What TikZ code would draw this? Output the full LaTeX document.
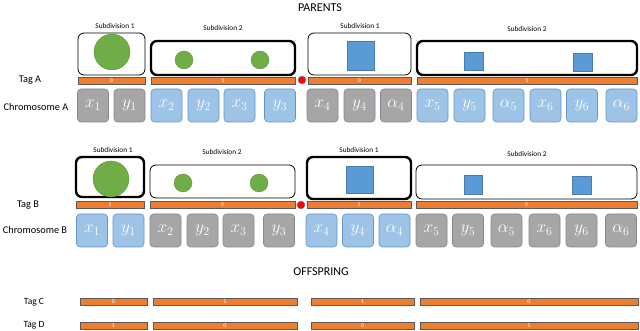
\documentclass[tikz,border=0pt]{standalone}
\usepackage{fontspec}
\setmainfont{Carlito}
\begin{document}
\begin{tikzpicture}[x=1pt,y=-1pt,
  every node/.style={inner sep=0pt,outer sep=0pt},
  title/.style={font=\fontsize{12}{13}\selectfont},
  sublab/.style={font=\fontsize{7.3}{8}\selectfont},
  rowlab/.style={font=\fontsize{10.3}{11}\selectfont},
  thinbox/.style={draw=black,line width=0.8pt,rounded corners=6pt,fill=white},
  thickbox/.style={draw=black,line width=2.4pt,rounded corners=6pt,fill=white},
  bar/.style={draw=gray!70!black,line width=0.4pt,fill=orangeT,text=white,font=\fontsize{6}{6}\selectfont},
  gene/.style={rounded corners=3.5pt,line width=0.6pt,minimum width=31pt,minimum height=33pt,text=white,font=\fontsize{16.5}{17}\selectfont},
  gg/.style={gene,fill=grayF,draw=grayD},
  gbl/.style={gene,fill=blueF,draw=blueD},
  circ/.style={circle,fill=greenT,draw=greenT!80!black,line width=0.3pt},
  sq/.style={fill=blueS,draw=blueS!80!black,line width=0.3pt},
  reddot/.style={circle,fill=red,draw=blueD,line width=0.4pt,minimum size=8pt}
]
\definecolor{orangeT}{RGB}{237,125,49}
\definecolor{grayF}{RGB}{166,166,166}
\definecolor{grayD}{RGB}{130,135,145}
\definecolor{blueF}{RGB}{157,195,230}
\definecolor{blueD}{RGB}{100,150,200}
\definecolor{greenT}{RGB}{112,173,71}
\definecolor{blueS}{RGB}{91,155,213}
\useasboundingbox[fill=white] (0,0) rectangle (640,331);

% titles
\node[title] (parents) at (320,8) {PARENTS};
\node[title] (offspring) at (321,272) {OFFSPRING};

% ---------- Parent A ----------
\node[sublab] (sa1) at (115,26) {Subdivision 1};
\node[sublab] (sa2) at (223,28) {Subdivision 2};
\node[sublab] (sa3) at (360,26) {Subdivision 1};
\node[sublab] (sa4) at (527,29) {Subdivision 2};

\node[thinbox,minimum width=67pt,minimum height=42pt] (ba1) at (111.5,54) {};
\node[thickbox,minimum width=144pt,minimum height=34pt] (ba2) at (223,58) {};
\node[thinbox,minimum width=103pt,minimum height=42pt] (ba3) at (359.5,54) {};
\node[thickbox,minimum width=220pt,minimum height=34pt] (ba4) at (527,58) {};

\node[circ,minimum size=36pt] (ca1) at (112,52) {};
\node[circ,minimum size=18pt] (ca2) at (184,60) {};
\node[circ,minimum size=18pt] (ca3) at (260,60) {};
\node[sq,minimum width=27pt,minimum height=29pt] (qa1) at (360.5,55.5) {};
\node[sq,minimum width=19pt,minimum height=18pt] (qa2) at (473.5,61) {};
\node[sq,minimum width=19pt,minimum height=18pt] (qa3) at (582.5,62) {};

\node[rowlab] (taga) at (30,80.5) {Tag A};
\node[bar,minimum width=67pt,minimum height=7pt] (ta1) at (111.5,80.5) {0};
\node[bar,minimum width=144pt,minimum height=7pt] (ta2) at (223,80.5) {1};
\node[reddot] (rda) at (302,80) {};
\node[bar,minimum width=103pt,minimum height=7pt] (ta3) at (359.5,80.5) {0};
\node[bar,minimum width=220pt,minimum height=7pt] (ta4) at (527,80.5) {1};

\node[rowlab] (chra) at (36,107) {Chromosome A};
\foreach \c/\t/\s [count=\i] in {93/x_1/gg,129.5/y_1/gg,166.5/x_2/gbl,203.5/y_2/gbl,239.5/x_3/gbl,280/y_3/gbl,322.5/x_4/gg,359.5/y_4/gg,396/\alpha_4/gg,432.5/x_5/gbl,469.5/y_5/gbl,508.5/\alpha_5/gbl,545.5/x_6/gbl,582/y_6/gbl,621.5/\alpha_6/gbl}
  \node[\s] (ga\i) at (\c,105.5) {$\t$};

% ---------- Parent B ----------
\node[sublab] (sb1) at (113,150) {Subdivision 1};
\node[sublab] (sb2) at (222,152) {Subdivision 2};
\node[sublab] (sb3) at (359,150) {Subdivision 1};
\node[sublab] (sb4) at (527,154) {Subdivision 2};

\node[thickbox,minimum width=68pt,minimum height=40pt] (bb1) at (110,177) {};
\node[thinbox,minimum width=145pt,minimum height=33pt] (bb2) at (222.5,181.5) {};
\node[thickbox,minimum width=104pt,minimum height=42pt] (bb3) at (359,178) {};
\node[thinbox,minimum width=221pt,minimum height=34pt] (bb4) at (526.5,182) {};

\node[circ,minimum size=36pt] (cb1) at (111,179) {};
\node[circ,minimum size=18pt] (cb2) at (183,183) {};
\node[circ,minimum size=18pt] (cb3) at (259,183) {};
\node[sq,minimum width=27pt,minimum height=27pt] (qb1) at (359.5,179.5) {};
\node[sq,minimum width=18pt,minimum height=19pt] (qb2) at (473,184.5) {};
\node[sq,minimum width=19pt,minimum height=18pt] (qb3) at (581.5,185) {};

\node[rowlab] (tagb) at (28,205) {Tag B};
\node[bar,minimum width=68pt,minimum height=7pt] (tb1) at (110,204.5) {1};
\node[bar,minimum width=145pt,minimum height=7pt] (tb2) at (222.5,204.5) {0};
\node[reddot] (rdb) at (301,205) {};
\node[bar,minimum width=104pt,minimum height=7pt] (tb3) at (359,204.5) {1};
\node[bar,minimum width=221pt,minimum height=7pt] (tb4) at (526.5,204.5) {0};

\node[rowlab] (chrb) at (35,230) {Chromosome B};
\foreach \c/\t/\s [count=\i] in {92/x_1/gbl,128.5/y_1/gbl,165.5/x_2/gg,202.5/y_2/gg,238.5/x_3/gg,279/y_3/gg,321.5/x_4/gbl,358/y_4/gbl,394.5/\alpha_4/gbl,431.5/x_5/gg,468/y_5/gg,506.5/\alpha_5/gg,544.5/x_6/gg,581.5/y_6/gg,621/\alpha_6/gg}
  \node[\s] (gb\i) at (\c,230.5) {$\t$};

% ---------- Offspring ----------
\node[rowlab,font=\fontsize{9.5}{10}\selectfont] (tagc) at (34,302) {Tag C};
\node[bar,minimum width=67pt,minimum height=7pt] (tc1) at (113.5,301.5) {0};
\node[bar,minimum width=144pt,minimum height=7pt] (tc2) at (225,301.5) {1};
\node[bar,minimum width=103pt,minimum height=7pt] (tc3) at (362.5,301.5) {1};
\node[bar,minimum width=218pt,minimum height=7pt] (tc4) at (529,301.5) {0};

\node[rowlab,font=\fontsize{9.5}{10}\selectfont] (tagd) at (34,325.5) {Tag D};
\node[bar,minimum width=67pt,minimum height=7pt] (td1) at (113.5,325.5) {1};
\node[bar,minimum width=144pt,minimum height=7pt] (td2) at (225,325.5) {0};
\node[bar,minimum width=103pt,minimum height=7pt] (td3) at (362.5,325.5) {0};
\node[bar,minimum width=218pt,minimum height=7pt] (td4) at (529,325.5) {1};
\end{tikzpicture}
\end{document}
